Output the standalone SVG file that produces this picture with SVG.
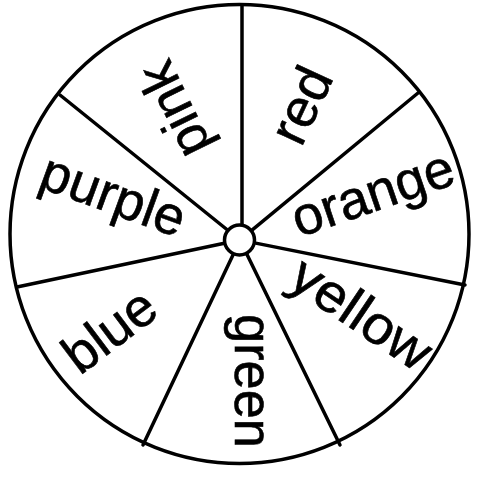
<svg xmlns="http://www.w3.org/2000/svg" width="479" height="479" viewBox="0 0 479 479">
<style>
  .ln { stroke: #000; stroke-width: 3.5; fill: none; stroke-linecap: round; }
  .lbl { font-family: "Liberation Sans", Arial, sans-serif; font-size: 54px; fill: #000; stroke: #000; stroke-width: 0.6; text-anchor: middle; }
</style>
<rect width="479" height="479" fill="#fff"/>
<g id="wheel">
  <circle class="ln" cx="239.5" cy="234" r="229.5"/>
</g>
<g id="connectors">
  <line class="ln" x1="242" y1="5" x2="242" y2="224"/>
  <line class="ln" x1="418" y1="93" x2="252.3" y2="229.8"/>
  <line class="ln" x1="465" y1="285" x2="255.7" y2="243.1"/>
  <line class="ln" x1="340" y1="445" x2="247" y2="254.4"/>
  <line class="ln" x1="143" y1="445" x2="233.2" y2="254.5"/>
  <line class="ln" x1="17" y1="287" x2="224.3" y2="243.3"/>
  <line class="ln" x1="60" y1="95" x2="227.5" y2="230"/>
</g>
<g id="hub">
  <circle class="ln" cx="239.5" cy="240" r="15" fill="#fff"/>
</g>
<g id="pink" transform="translate(178,108) rotate(244)">
  <text class="lbl" x="0" y="14">pink</text>
</g>
<g id="red" transform="translate(305,107) rotate(-65)">
  <text class="lbl" x="0" y="14">red</text>
</g>
<g id="orange" transform="translate(374,197) rotate(-19)">
  <text class="lbl" x="0" y="14">orange</text>
</g>
<g id="yellow" transform="translate(359,317) rotate(34)">
  <text class="lbl" x="0" y="14" textLength="158" lengthAdjust="spacingAndGlyphs">yellow</text>
</g>
<g id="green" transform="translate(248.5,381) rotate(90)">
  <text class="lbl" x="0" y="14" textLength="134" lengthAdjust="spacingAndGlyphs">green</text>
</g>
<g id="blue" transform="translate(112,334) rotate(-37)">
  <text class="lbl" x="0" y="14">blue</text>
</g>
<g id="purple" transform="translate(112,199) rotate(20)">
  <text class="lbl" x="0" y="14">purple</text>
</g>
</svg>
